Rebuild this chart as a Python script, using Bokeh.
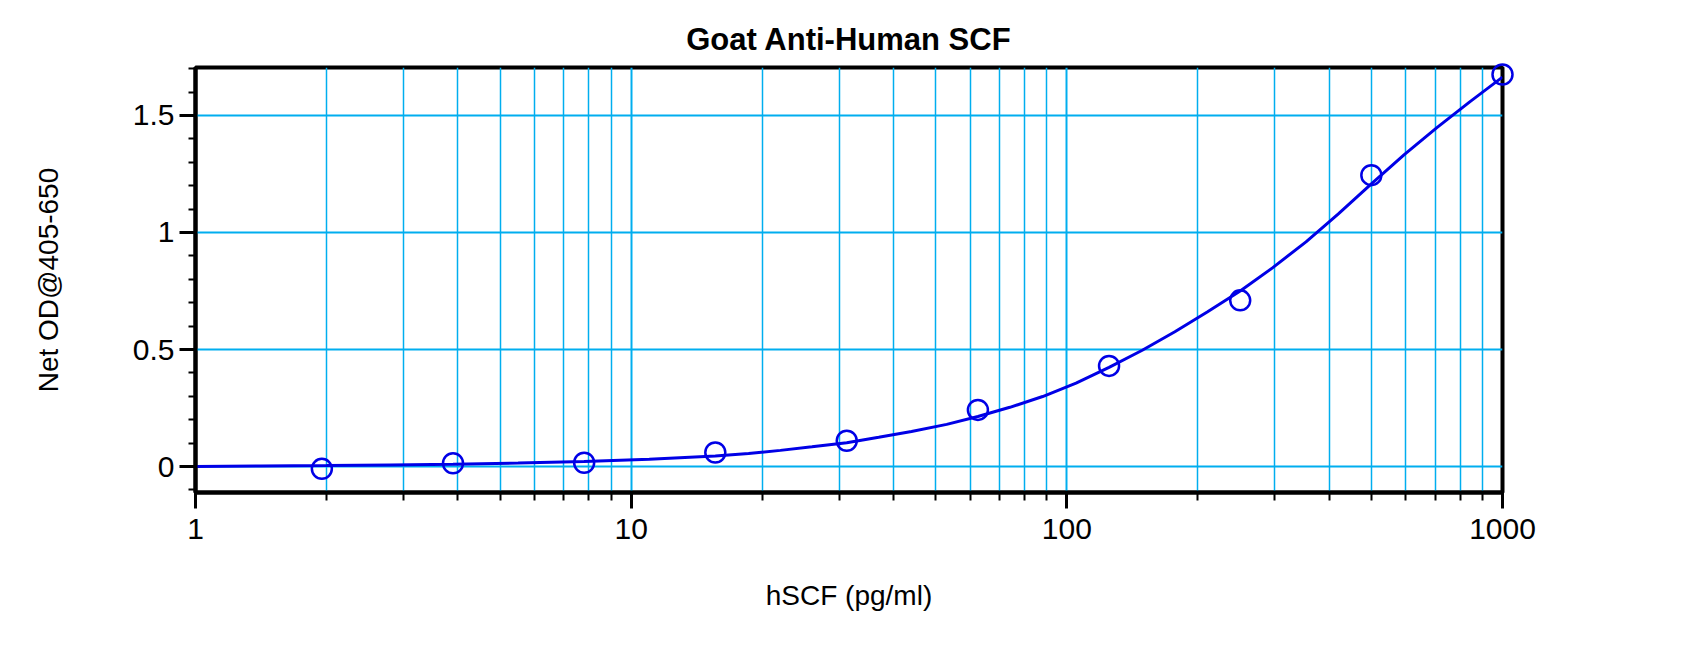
from bokeh.plotting import figure
from bokeh.models import Range1d, FixedTicker
from bokeh.embed import file_html
from bokeh.resources import INLINE

# ---- data ----
conc = [1.95, 3.9, 7.8, 15.6, 31.25, 62.5, 125, 250, 500, 1000]
od = [-0.01, 0.014, 0.016, 0.06, 0.11, 0.242, 0.43, 0.71, 1.245, 1.675]

curve_x = [1, 1.41, 2, 2.8, 3.9, 5.5, 7.8, 11, 15.6, 18.6, 22, 26, 31.25, 37, 44,
           53, 62.5, 74, 88, 105, 125, 149, 177, 210, 250, 297, 354, 420, 500,
           595, 707, 841, 1000]
curve_y = [0.0, 0.002, 0.004, 0.007, 0.010, 0.015, 0.021, 0.031, 0.045, 0.056,
           0.069, 0.084, 0.102, 0.125, 0.150, 0.180, 0.214, 0.253, 0.299, 0.356,
           0.424, 0.497, 0.576, 0.660, 0.750, 0.850, 0.960, 1.080, 1.208, 1.333,
           1.448, 1.558, 1.664]

x_major = [1, 10, 100, 1000]
x_major_labels = ["1", "10", "100", "1000"]
x_minor = [2, 3, 4, 5, 6, 7, 8, 9, 20, 30, 40, 50, 60, 70, 80, 90,
           200, 300, 400, 500, 600, 700, 800, 900]
y_major = [0, 0.5, 1, 1.5]
y_major_labels = ["0", "0.5", "1", "1.5"]
y_minor = [-0.1, 0.1, 0.2, 0.3, 0.4, 0.6, 0.7, 0.8, 0.9, 1.1, 1.2, 1.3, 1.4, 1.6, 1.7]

title_text = "Goat Anti-Human SCF"
x_label = "hSCF (pg/ml)"
y_label = "Net OD@405-650"

FONT = "Liberation Sans"
GRID = "#00AEEF"
BLUE = "#0000E6"

p = figure(width=1684, height=632, x_axis_type="log",
           x_range=Range1d(1, 1000), y_range=Range1d(-0.111, 1.705),
           output_backend="svg", toolbar_location=None,
           min_border_left=195, min_border_right=182,
           min_border_top=67, min_border_bottom=140,
           title=title_text)

p.background_fill_color = "white"
p.border_fill_color = "white"
p.outline_line_color = "black"
p.outline_line_width = 4

p.title.text_font = FONT
p.title.text_font_size = "31px"
p.title.text_font_style = "bold"
p.title.align = "center"
p.title.text_color = "black"
p.title.standoff = 22

# x axis
xa = p.xaxis[0]
xa.ticker = FixedTicker(ticks=x_major, minor_ticks=x_minor)
xa.major_label_overrides = {t: l for t, l in zip(x_major, x_major_labels)}
xa.axis_label = x_label
# y axis
ya = p.yaxis[0]
ya.ticker = FixedTicker(ticks=y_major, minor_ticks=y_minor)
ya.major_label_overrides = {t: l for t, l in zip(y_major, y_major_labels)}
ya.axis_label = y_label

for ax in (xa, ya):
    ax.axis_line_color = "black"
    ax.axis_line_width = 4
    ax.major_tick_line_color = "black"
    ax.major_tick_line_width = 3
    ax.minor_tick_line_color = "black"
    ax.minor_tick_line_width = 2
    ax.major_tick_in = 0
    ax.minor_tick_in = 0
    ax.major_tick_out = 16
    ax.major_label_text_font = FONT
    ax.major_label_text_font_size = "30px"
    ax.major_label_text_color = "black"
    ax.axis_label_text_font = FONT
    ax.axis_label_text_font_size = "28px"
    ax.axis_label_text_font_style = "normal"
    ax.axis_label_text_color = "black"

xa.minor_tick_out = 8
ya.minor_tick_out = 7
xa.major_label_standoff = 10
ya.major_label_standoff = 5
xa.axis_label_standoff = 38
ya.axis_label_standoff = 66

# grids
p.xgrid.ticker = FixedTicker(ticks=x_major, minor_ticks=x_minor)
p.xgrid.grid_line_color = GRID
p.xgrid.grid_line_width = 2
p.xgrid.minor_grid_line_color = GRID
p.xgrid.minor_grid_line_width = 1.5
p.ygrid.ticker = FixedTicker(ticks=y_major)
p.ygrid.grid_line_color = GRID
p.ygrid.grid_line_width = 2

# curve & points
p.line(curve_x, curve_y, line_color=BLUE, line_width=3)
pts = p.scatter(conc, od, marker="circle", size=20, fill_color=None,
                line_color=BLUE, line_width=2.5)
pts.level = "overlay"

open("out.html", "w").write(file_html(p, INLINE))
